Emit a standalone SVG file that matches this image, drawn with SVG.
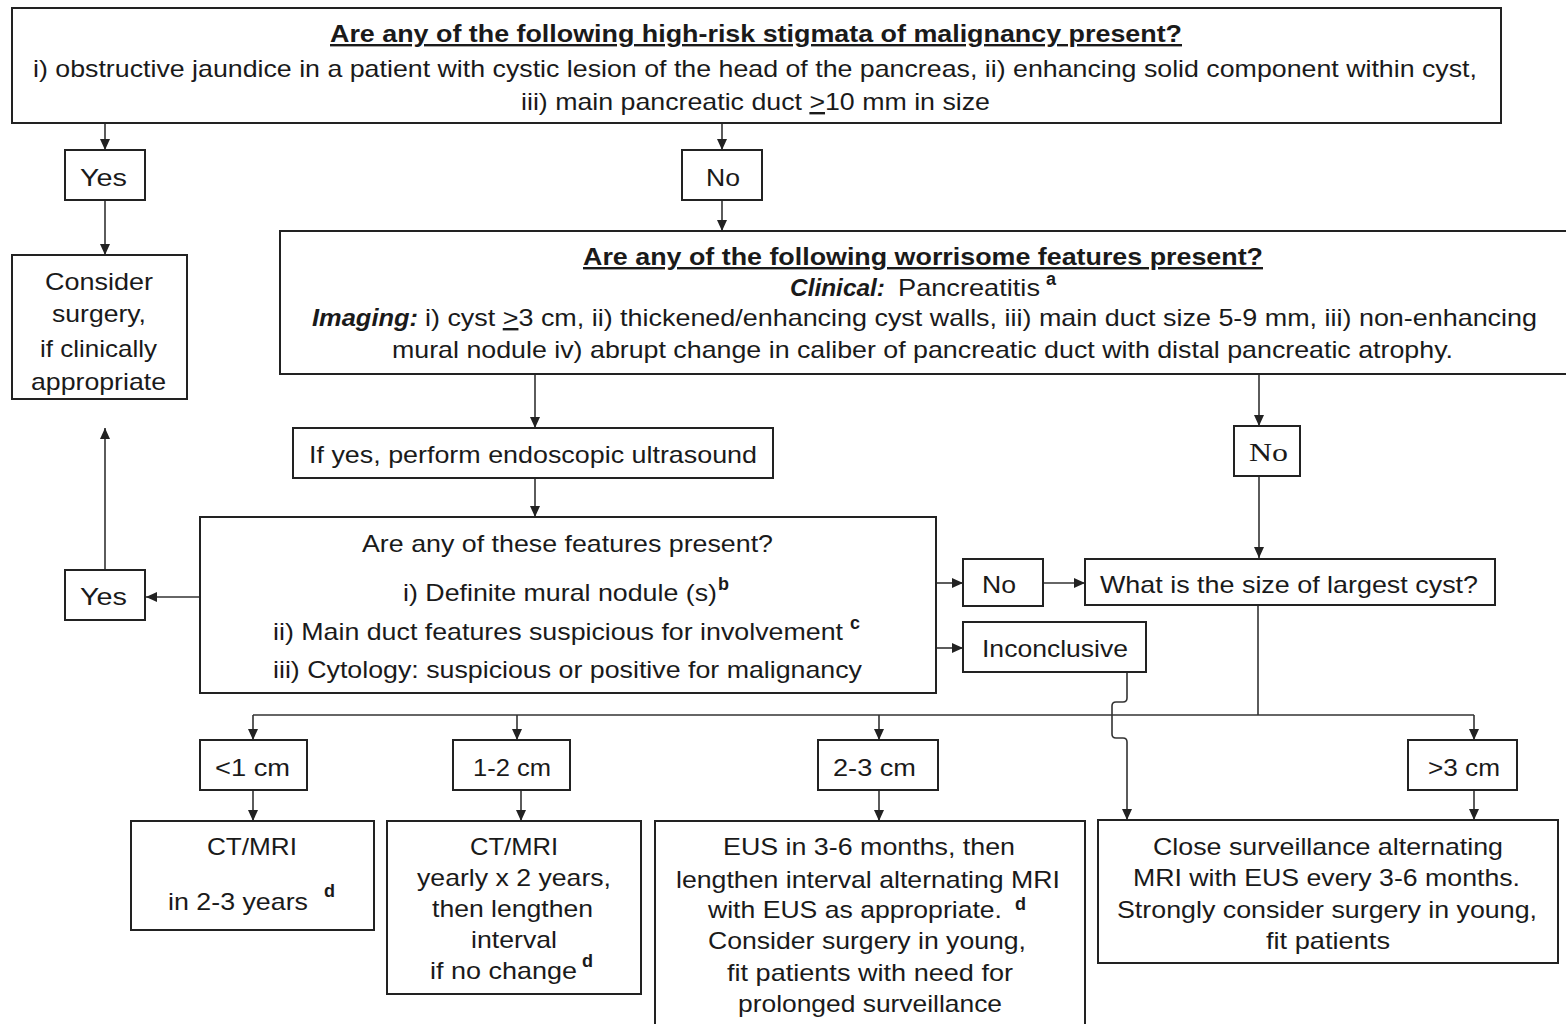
<svg xmlns="http://www.w3.org/2000/svg" width="1566" height="1024" viewBox="0 0 1566 1024">
<defs>
<marker id="ah" markerUnits="userSpaceOnUse" markerWidth="12" markerHeight="12" viewBox="0 0 12 12" refX="11" refY="6" orient="auto">
<path d="M0,1 L11,6 L0,11 Z" fill="#222"/>
</marker>
</defs>
<style>
.box{fill:#fff;stroke:#222;stroke-width:2}
.t{font-family:"Liberation Sans",Arial,sans-serif;font-size:24px;fill:#1a1a1a}
.b{font-weight:bold}
.bi{font-weight:bold;font-style:italic}
.u{text-decoration:underline}
.sup{font-family:"Liberation Sans",Arial,sans-serif;font-size:18px;font-weight:bold;fill:#1a1a1a}
.serif{font-family:"Liberation Serif","Times New Roman",serif;font-size:25px;fill:#1a1a1a}
.c{fill:none;stroke:#333;stroke-width:1.6}
.ca{fill:none;stroke:#333;stroke-width:1.6;marker-end:url(#ah)}
</style>
<rect width="1566" height="1024" fill="#fff"/>

<g id="connectors">
<path class="ca" d="M105,123 V150"/>
<path class="ca" d="M722,123 V150"/>
<path class="ca" d="M105,200 V255"/>
<path class="ca" d="M722,200 V231"/>
<path class="ca" d="M535,374 V428"/>
<path class="ca" d="M535,478 V517"/>
<path class="ca" d="M1259,374 V426"/>
<path class="ca" d="M1259,476 V558"/>
<path class="ca" d="M200,597 H146"/>
<path class="ca" d="M105,570 V428"/>
<path class="ca" d="M936,583 H963"/>
<path class="ca" d="M1043,583 H1085"/>
<path class="ca" d="M936,648 H963"/>
<path class="c" d="M1258,605 V715"/>
<path class="c" d="M253,715 H1474"/>
<path class="ca" d="M253,715 V740"/>
<path class="ca" d="M517,715 V740"/>
<path class="ca" d="M879,715 V740"/>
<path class="ca" d="M1474,715 V740"/>
<path class="ca" d="M253,790 V821"/>
<path class="ca" d="M521,790 V821"/>
<path class="ca" d="M879,790 V821"/>
<path class="ca" d="M1474,790 V820"/>
<path class="ca" d="M1127,672 V698 Q1127,702 1123,702 H1116 Q1112,702 1112,706 V734 Q1112,738 1116,738 H1123 Q1127,738 1127,742 V820"/>
</g>

<g id="n-highrisk">
<rect class="box" x="12" y="8" width="1489" height="115"/>
<text class="t b u" x="330" y="42" textLength="852" lengthAdjust="spacingAndGlyphs">Are any of the following high-risk stigmata of malignancy present?</text>
<text class="t" x="33" y="77" textLength="1444" lengthAdjust="spacingAndGlyphs">i) obstructive jaundice in a patient with cystic lesion of the head of the pancreas, ii) enhancing solid component within cyst,</text>
<text class="t" x="521" y="110" textLength="469" lengthAdjust="spacingAndGlyphs">iii) main pancreatic duct <tspan class="u">&gt;</tspan>10 mm in size</text>
</g>

<g id="n-yes1">
<rect class="box" x="65" y="150" width="80" height="50"/>
<text class="t" x="80" y="186" textLength="47" lengthAdjust="spacingAndGlyphs">Yes</text>
</g>

<g id="n-no1">
<rect class="box" x="682" y="150" width="80" height="50"/>
<text class="t" x="706" y="186" textLength="34" lengthAdjust="spacingAndGlyphs">No</text>
</g>

<g id="n-surgery">
<rect class="box" x="12" y="255" width="175" height="144"/>
<text class="t" x="45" y="290" textLength="108" lengthAdjust="spacingAndGlyphs">Consider</text>
<text class="t" x="52" y="322" textLength="94" lengthAdjust="spacingAndGlyphs">surgery,</text>
<text class="t" x="40" y="357" textLength="117" lengthAdjust="spacingAndGlyphs">if clinically</text>
<text class="t" x="31" y="390" textLength="135" lengthAdjust="spacingAndGlyphs">appropriate</text>
</g>

<g id="n-worrisome">
<rect class="box" x="280" y="231" width="1290" height="143"/>
<text class="t b u" x="583" y="265" textLength="680" lengthAdjust="spacingAndGlyphs">Are any of the following worrisome features present?</text>
<text class="t bi" x="790" y="296" textLength="95" lengthAdjust="spacingAndGlyphs">Clinical:</text>
<text class="t" x="898" y="296" textLength="142" lengthAdjust="spacingAndGlyphs">Pancreatitis</text>
<text class="sup" x="1046" y="285">a</text>
<text class="t bi" x="312" y="326" textLength="106" lengthAdjust="spacingAndGlyphs">Imaging:</text>
<text class="t" x="425" y="326" textLength="1112" lengthAdjust="spacingAndGlyphs">i) cyst <tspan class="u">&gt;</tspan>3 cm, ii) thickened/enhancing cyst walls, iii) main duct size 5-9 mm, iii) non-enhancing</text>
<text class="t" x="392" y="358" textLength="1061" lengthAdjust="spacingAndGlyphs">mural nodule iv) abrupt change in caliber of pancreatic duct with distal pancreatic atrophy.</text>
</g>

<g id="n-eus">
<rect class="box" x="293" y="428" width="480" height="50"/>
<text class="t" x="309" y="463" textLength="448" lengthAdjust="spacingAndGlyphs">If yes, perform endoscopic ultrasound</text>
</g>

<g id="n-no2">
<rect class="box" x="1234" y="426" width="66" height="50"/>
<text class="serif" x="1249" y="461" textLength="39" lengthAdjust="spacingAndGlyphs">No</text>
</g>

<g id="n-features">
<rect class="box" x="200" y="517" width="736" height="176"/>
<text class="t" x="362" y="552" textLength="411" lengthAdjust="spacingAndGlyphs">Are any of these features present?</text>
<text class="t" x="403" y="601" textLength="314" lengthAdjust="spacingAndGlyphs">i) Definite mural nodule (s)</text>
<text class="sup" x="718" y="590">b</text>
<text class="t" x="273" y="640" textLength="570" lengthAdjust="spacingAndGlyphs">ii) Main duct features suspicious for involvement</text>
<text class="sup" x="850" y="629">c</text>
<text class="t" x="273" y="678" textLength="589" lengthAdjust="spacingAndGlyphs">iii) Cytology: suspicious or positive for malignancy</text>
</g>

<g id="n-yes2">
<rect class="box" x="65" y="570" width="80" height="50"/>
<text class="t" x="80" y="605" textLength="47" lengthAdjust="spacingAndGlyphs">Yes</text>
</g>

<g id="n-no3">
<rect class="box" x="963" y="559" width="80" height="47"/>
<text class="t" x="982" y="593" textLength="34" lengthAdjust="spacingAndGlyphs">No</text>
</g>

<g id="n-size">
<rect class="box" x="1085" y="559" width="410" height="46"/>
<text class="t" x="1100" y="593" textLength="378" lengthAdjust="spacingAndGlyphs">What is the size of largest cyst?</text>
</g>

<g id="n-inconclusive">
<rect class="box" x="963" y="622" width="183" height="50"/>
<text class="t" x="982" y="657" textLength="146" lengthAdjust="spacingAndGlyphs">Inconclusive</text>
</g>

<g id="n-lt1">
<rect class="box" x="200" y="740" width="107" height="50"/>
<text class="t" x="215" y="776" textLength="75" lengthAdjust="spacingAndGlyphs">&lt;1 cm</text>
</g>

<g id="n-1to2">
<rect class="box" x="453" y="740" width="117" height="50"/>
<text class="t" x="473" y="776" textLength="78" lengthAdjust="spacingAndGlyphs">1-2 cm</text>
</g>

<g id="n-2to3">
<rect class="box" x="818" y="740" width="120" height="50"/>
<text class="t" x="833" y="776" textLength="83" lengthAdjust="spacingAndGlyphs">2-3 cm</text>
</g>

<g id="n-gt3">
<rect class="box" x="1408" y="740" width="109" height="50"/>
<text class="t" x="1428" y="776" textLength="72" lengthAdjust="spacingAndGlyphs">&gt;3 cm</text>
</g>

<g id="n-r1">
<rect class="box" x="131" y="821" width="243" height="109"/>
<text class="t" x="207" y="855" textLength="90" lengthAdjust="spacingAndGlyphs">CT/MRI</text>
<text class="t" x="168" y="910" textLength="140" lengthAdjust="spacingAndGlyphs">in 2-3 years</text>
<text class="sup" x="324" y="897">d</text>
</g>

<g id="n-r2">
<rect class="box" x="387" y="821" width="254" height="173"/>
<text class="t" x="470" y="855" textLength="88" lengthAdjust="spacingAndGlyphs">CT/MRI</text>
<text class="t" x="417" y="886" textLength="194" lengthAdjust="spacingAndGlyphs">yearly x 2 years,</text>
<text class="t" x="432" y="917" textLength="161" lengthAdjust="spacingAndGlyphs">then lengthen</text>
<text class="t" x="471" y="948" textLength="86" lengthAdjust="spacingAndGlyphs">interval</text>
<text class="t" x="430" y="979" textLength="147" lengthAdjust="spacingAndGlyphs">if no change</text>
<text class="sup" x="582" y="967">d</text>
</g>

<g id="n-r3">
<rect class="box" x="655" y="821" width="430" height="215"/>
<text class="t" x="723" y="855" textLength="292" lengthAdjust="spacingAndGlyphs">EUS in 3-6 months, then</text>
<text class="t" x="676" y="888" textLength="384" lengthAdjust="spacingAndGlyphs">lengthen interval alternating MRI</text>
<text class="t" x="708" y="918" textLength="294" lengthAdjust="spacingAndGlyphs">with EUS as appropriate.</text>
<text class="sup" x="1015" y="910">d</text>
<text class="t" x="708" y="949" textLength="318" lengthAdjust="spacingAndGlyphs">Consider surgery in young,</text>
<text class="t" x="727" y="981" textLength="286" lengthAdjust="spacingAndGlyphs">fit patients with need for</text>
<text class="t" x="738" y="1012" textLength="264" lengthAdjust="spacingAndGlyphs">prolonged surveillance</text>
</g>

<g id="n-r4">
<rect class="box" x="1098" y="820" width="460" height="143"/>
<text class="t" x="1153" y="855" textLength="350" lengthAdjust="spacingAndGlyphs">Close surveillance alternating</text>
<text class="t" x="1133" y="886" textLength="387" lengthAdjust="spacingAndGlyphs">MRI with EUS every 3-6 months.</text>
<text class="t" x="1117" y="918" textLength="420" lengthAdjust="spacingAndGlyphs">Strongly consider surgery in young,</text>
<text class="t" x="1266" y="949" textLength="124" lengthAdjust="spacingAndGlyphs">fit patients</text>
</g>
</svg>
